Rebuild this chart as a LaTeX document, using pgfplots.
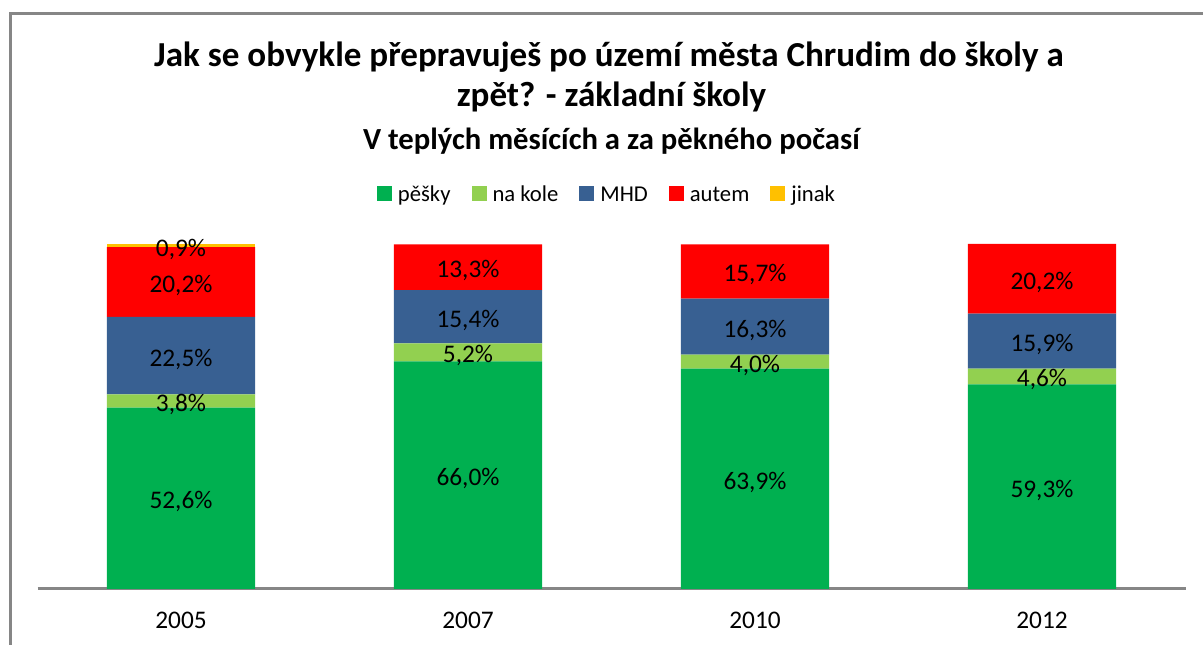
\documentclass[border=0pt]{standalone}
\usepackage{fontspec}
\setmainfont{Carlito}
\usepackage{pgfplots}
\usepackage{pgfplotstable}
\pgfplotsset{compat=1.18}

\definecolor{cpesky}{RGB}{0,176,80}
\definecolor{ckolo}{RGB}{146,208,80}
\definecolor{cmhd}{RGB}{56,96,146}
\definecolor{cauto}{RGB}{255,0,0}
\definecolor{cjinak}{RGB}{255,192,0}
\definecolor{framegray}{RGB}{134,134,134}

% podily v %, zakladni skoly
\pgfplotstableread{
x pesky kolo mhd auto jinak
0 52.6 3.8 22.5 20.2 0.9
1 66.0 5.2 15.4 13.3 0
2 63.9 4.0 16.3 15.7 0
3 59.3 4.6 15.9 20.2 0
}\doprava

% stacked bars already put the node in the middle of the segment
\pgfplotsset{
  seglabel/.style={
    point meta=\thisrow{#1},
    nodes near coords={\pgfmathfloatifflags{\pgfplotspointmeta}{0}{}{\pgfmathprintnumber{\pgfplotspointmeta}\%}},
    every node near coord/.style={anchor=center, yshift=-2.6pt,
      font=\fontsize{19}{22}\selectfont, text=black, inner sep=0pt},
  },
}

\begin{document}
\begin{tikzpicture}
\useasboundingbox (0,0) rectangle (902.25pt,483.75pt);
\draw[framegray, line width=2.25pt] (7.875pt,0) -- (7.875pt,473.625pt) -- (902.25pt,473.625pt);
\node[anchor=base, font=\bfseries\fontsize{26.3}{30}\selectfont, inner sep=0pt] at (456.75pt,434pt) {Jak se obvykle přepravuješ po území města Chrudim do školy a};
\node[anchor=base, font=\bfseries\fontsize{26.3}{30}\selectfont, inner sep=0pt] at (458.6pt,403.5pt) {zpět? - základní školy};
\node[anchor=base, font=\bfseries\fontsize{23}{27}\selectfont, inner sep=0pt] at (458.6pt,371.25pt) {V teplých měsících a za pěkného počasí};
\begin{axis}[
  at={(28.125pt,42pt)}, anchor=south west,
  scale only axis, width=861pt, height=258.75pt,
  xmin=-0.5, xmax=3.5, ymin=0, ymax=100,
  ybar stacked, bar width=0.516,
  axis x line=bottom, axis y line=none,
  x axis line style={-, draw=framegray, line width=2.25pt},
  xtick={0,1,2,3}, xticklabels={2005,2007,2010,2012},
  major tick length=0pt, ytick=\empty,
  xticklabel style={font=\fontsize{19}{22}\selectfont, inner sep=0pt, anchor=north, yshift=-17pt},
  clip=false,
  /pgf/number format/.cd, fixed, fixed zerofill, precision=1, use comma, assume math mode=true, /pgfplots/.cd,
  legend columns=5,
  legend style={at={(0.4952,1.139)}, anchor=center, draw=none, fill=none,
    font=\fontsize{17}{20}\selectfont,
    nodes={inner xsep=0pt, text height=12pt, text depth=4pt},
    /tikz/every odd column/.append style={column sep=4.5pt},
    /tikz/every even column/.append style={column sep=15.75pt}},
  legend image code/.code={\fill[#1] (0pt,-4pt) rectangle (11.25pt,7.25pt);},
]
\addplot[fill=cpesky, draw=none, seglabel=pesky] table[x=x, y=pesky] {\doprava};
\addplot[fill=ckolo, draw=none, seglabel=kolo] table[x=x, y=kolo] {\doprava};
\addplot[fill=cmhd, draw=none, seglabel=mhd] table[x=x, y=mhd] {\doprava};
\addplot[fill=cauto, draw=none, seglabel=auto] table[x=x, y=auto] {\doprava};
\addplot[fill=cjinak, draw=none, seglabel=jinak] table[x=x, y=jinak] {\doprava};
\legend{pěšky, na kole, MHD, autem, jinak}
\end{axis}
\end{tikzpicture}
\end{document}
